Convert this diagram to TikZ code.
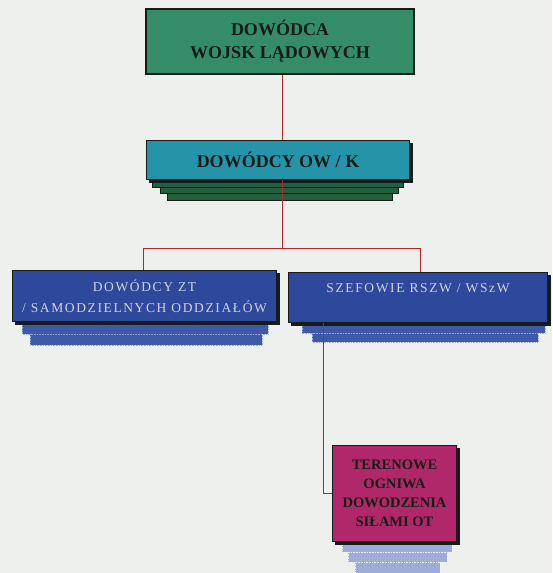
\documentclass[tikz,border=0pt]{standalone}
\usepackage{fontspec}
\setmainfont{Liberation Serif}
\newfontfamily\spacedfont[LetterSpace=12]{Liberation Serif}
\definecolor{bgc}{RGB}{238,240,237}
\definecolor{greenc}{RGB}{52,140,105}
\definecolor{tealc}{RGB}{38,148,168}
\definecolor{darkgreen}{RGB}{36,96,62}
\definecolor{bluec}{RGB}{46,72,156}
\definecolor{bluelayer}{RGB}{62,88,170}
\definecolor{pinkc}{RGB}{176,40,106}
\definecolor{periw}{RGB}{158,172,216}
\definecolor{linec}{RGB}{178,40,40}
\definecolor{inkc}{RGB}{22,28,26}
\definecolor{lighttext}{RGB}{208,212,228}
\tikzset{
  boxbase/.style={draw=inkc, rectangle, inner sep=0pt, align=center},
  greenbox/.style={boxbase, fill=greenc, line width=2.5pt, text=inkc, font=\bfseries\fontsize{18}{23}\selectfont},
  tealbox/.style={boxbase, fill=tealc, line width=1.6pt, text=inkc, font=\bfseries\fontsize{18}{22}\selectfont},
  bluebox/.style={boxbase, fill=bluec, line width=1.2pt, text=lighttext, font=\spacedfont\fontsize{13.5}{21}\selectfont},
  bluetext/.style={text=lighttext, font=\spacedfont\fontsize{13.5}{21}\selectfont, inner sep=0pt},
  pinkbox/.style={boxbase, fill=pinkc, line width=1.4pt, text=inkc, font=\bfseries\fontsize{14.5}{19}\selectfont},
  layergreen/.style={fill=darkgreen, draw=inkc, line width=0.9pt},
  layerblue/.style={fill=bluelayer, draw=periw, line width=0.6pt, densely dotted},
  layerperi/.style={fill=periw, draw=white!85!periw, line width=0.6pt, densely dotted},
  shadowc/.style={fill=inkc},
  conn/.style={draw=linec, line width=0.9pt}
}
\begin{document}
\begin{tikzpicture}[x=1pt,y=-1pt]
\fill[bgc] (0,0) rectangle (552,573);
\useasboundingbox (0,0) rectangle (552,573);

% layers behind boxes
\draw[layergreen] (152,178) rectangle (403,187);
\draw[layergreen] (160,187) rectangle (398,193);
\draw[layergreen] (167,193) rectangle (392,200);

\filldraw[layerblue] (22,322) rectangle (268,334);
\filldraw[layerblue] (30,334) rectangle (262,345);
\filldraw[layerblue] (302,323) rectangle (545,333);
\filldraw[layerblue] (312,333) rectangle (538,342);

\filldraw[layerperi] (342,542) rectangle (452,552);
\filldraw[layerperi] (348,552) rectangle (447,562);
\filldraw[layerperi] (355,562) rectangle (440,573);

% shadows
\fill[shadowc] (15,273) rectangle (280,325);
\fill[shadowc] (291,275) rectangle (551,326);
\fill[shadowc] (335,448) rectangle (460,545);
\fill[shadowc] (149,143) rectangle (413,183);

% boxes
\node[greenbox, minimum width=268pt, minimum height=65pt] (dwl) at (280,41.5)
  {DOWÓDCA\\WOJSK LĄDOWYCH};
\node[tealbox, minimum width=263pt, minimum height=39pt] (ow) at (278,160)
  {DOWÓDCY OW / K};
\node[bluebox, minimum width=264pt, minimum height=51pt] (zt) at (144.5,296)
  {DOWÓDCY ZT\\/ SAMODZIELNYCH ODDZIAŁÓW};
\node[bluebox, minimum width=259pt, minimum height=50pt] (rszw) at (418,297.5) {};
\node[bluetext] (rszwt) at (418,288) {SZEFOWIE RSZW / WSzW};
\node[pinkbox, minimum width=124pt, minimum height=96pt] (ot) at (394.5,493.5)
  {TERENOWE\\OGNIWA\\DOWODZENIA\\SIŁAMI OT};

% connectors
\coordinate (j) at (282,248);
\coordinate (jl) at (143,248);
\coordinate (jr) at (420,248);
\coordinate (rs) at (323,323);
\coordinate (rb) at (323,493.5);
\draw[conn] (dwl.south -| j) -- (ow.north -| j);
\draw[conn] (ow.south -| j) -- (j);
\draw[conn] (jl) -- (jr);
\draw[conn] (jl) -- (jl |- zt.north);
\draw[conn] (jr) -- (jr |- rszw.north);
\draw[conn] (rs) -- (rb) -- (ot.west);
\end{tikzpicture}
\end{document}
